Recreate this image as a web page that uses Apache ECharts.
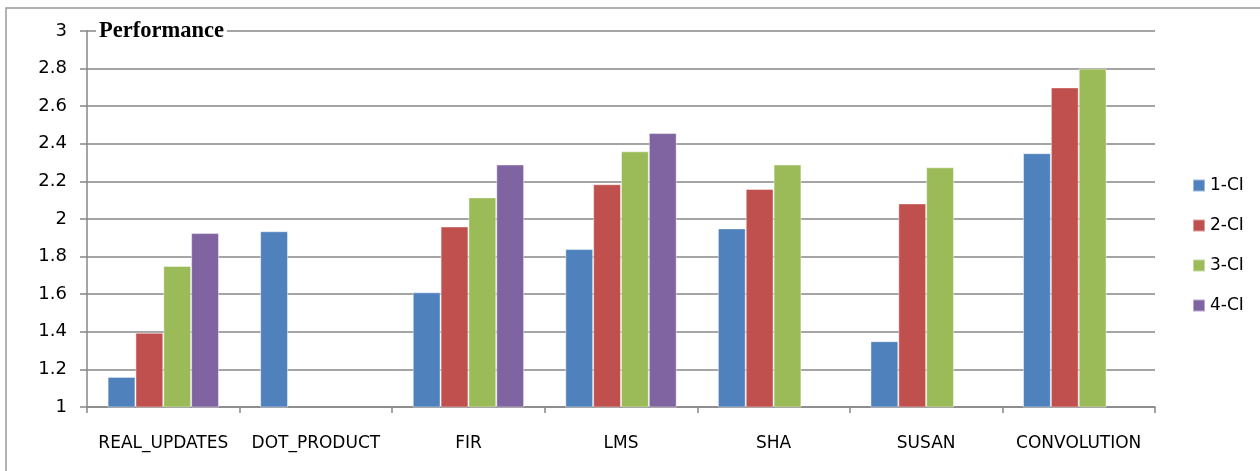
<!DOCTYPE html>
<html>
<head>
<meta charset="utf-8">
<script src="https://cdn.jsdelivr.net/npm/echarts@6/dist/echarts.min.js"></script>
<style>
  html, body { margin: 0; padding: 0; background: #fff; }
  #chart { width: 1260px; height: 471px; }
</style>
</head>
<body>
<div id="chart"></div>
<script>
// Benchmarks on the x axis
const categories = ['REAL_UPDATES', 'DOT_PRODUCT', 'FIR', 'LMS', 'SHA', 'SUSAN', 'CONVOLUTION'];

// Performance per configuration (null = not measured)
const ci1 = [1.16, 1.935, 1.61, 1.84, 1.95, 1.35, 2.35];
const ci2 = [1.395, null, 1.96, 2.185, 2.16, 2.083, 2.70];
const ci3 = [1.75, null, 2.115, 2.36, 2.29, 2.275, 2.80];
const ci4 = [1.925, null, 2.29, 2.457, null, null, null];

const seriesNames = ['1-CI', '2-CI', '3-CI', '4-CI'];
const seriesColors = ['#4F81BD', '#C0504D', '#9BBB59', '#8064A2'];
const seriesData = [ci1, ci2, ci3, ci4];

const axisGrey = '#878787';
const labelFont = 'DejaVu Sans';

const chart = echarts.init(document.getElementById('chart'), null, { renderer: 'canvas' });

chart.setOption({
  animation: false,
  backgroundColor: '#ffffff',
  title: {
    text: 'Performance',
    left: 96,
    top: 20,
    padding: [0, 3],
    backgroundColor: '#ffffff',
    textStyle: {
      fontFamily: 'Liberation Serif',
      fontWeight: 'bold',
      fontSize: 22.5,
      lineHeight: 22,
      color: '#000'
    }
  },
  graphic: [{
    type: 'rect',
    silent: true,
    z: -10,
    shape: { x: 6, y: 8, width: 1270, height: 480 },
    style: { fill: 'none', stroke: '#9a9a9a', lineWidth: 1.5 }
  }],
  legend: {
    orient: 'vertical',
    left: 1187,
    top: 172,
    itemWidth: 12,
    itemHeight: 12,
    itemGap: 23,
    icon: 'rect',
    data: seriesNames,
    textStyle: { fontFamily: labelFont, fontSize: 17, lineHeight: 17, color: '#000' }
  },
  grid: { left: 87, right: 105, top: 31, bottom: 64, containLabel: false },
  xAxis: {
    type: 'category',
    data: categories,
    axisLine: { lineStyle: { color: axisGrey, width: 1.5 } },
    axisTick: { show: true, length: 6, lineStyle: { color: axisGrey, width: 1.5 } },
    axisLabel: { margin: 28, fontFamily: labelFont, fontSize: 17, color: '#000', interval: 0 },
    splitLine: { show: false }
  },
  yAxis: {
    type: 'value',
    min: 1,
    max: 3,
    interval: 0.2,
    axisLine: { show: true, lineStyle: { color: axisGrey, width: 1.5 } },
    axisTick: { show: true, length: 7, lineStyle: { color: axisGrey, width: 1.5 } },
    axisLabel: {
      margin: 20,
      fontFamily: labelFont,
      fontSize: 18,
      color: '#000',
      formatter: v => String(+v.toFixed(1))
    },
    splitLine: { show: true, lineStyle: { color: axisGrey, width: 1.5 } }
  },
  series: seriesNames.map((name, i) => ({
    name: name,
    type: 'bar',
    data: seriesData[i],
    barGap: '0%',
    barCategoryGap: '27%',
    itemStyle: {
      color: seriesColors[i],
      borderColor: 'rgba(255,255,255,0.45)',
      borderWidth: 1
    }
  }))
});
</script>
</body>
</html>
